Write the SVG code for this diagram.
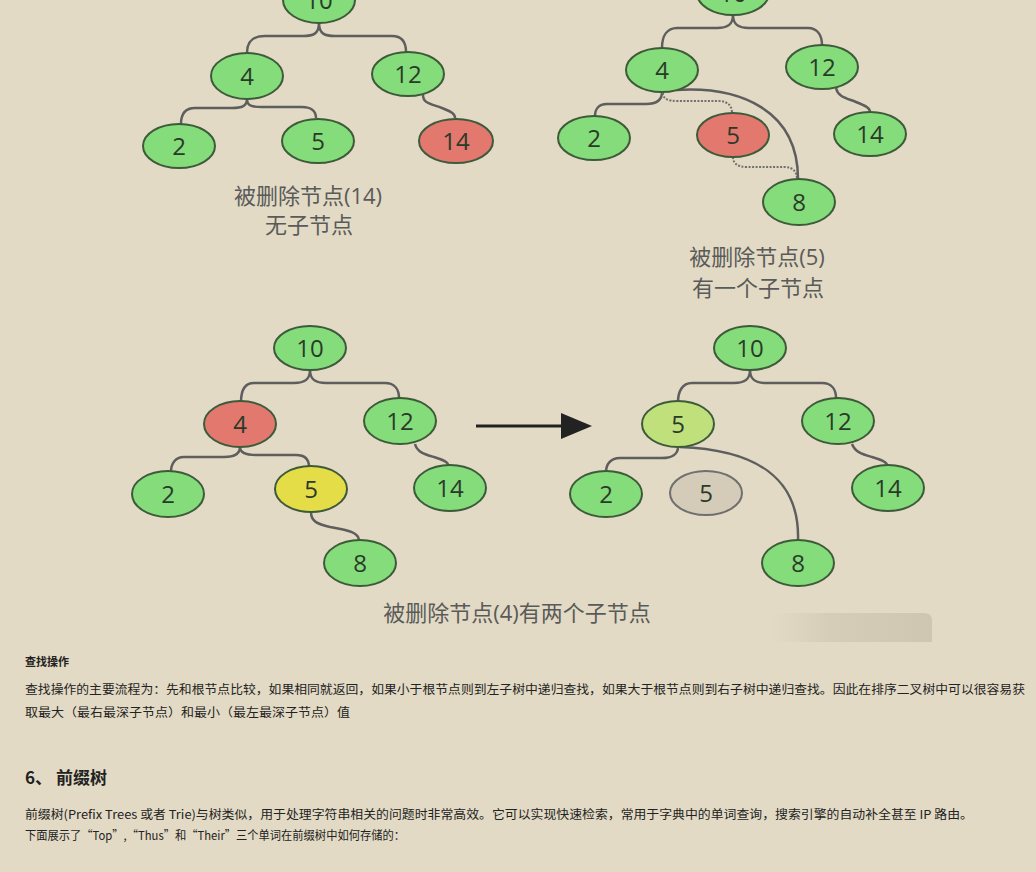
<svg xmlns="http://www.w3.org/2000/svg" width="1036" height="872" viewBox="0 0 1036 872">
<defs>
<style>
.n{stroke:#3d5a3a;stroke-width:2}
.g{fill:#84dc7a}
.r{fill:#e3786f}
.y{fill:#e5dd48}
.lg{fill:#bfe07a}
.gr{fill:#d4cbb8;stroke:#6f6f6f}
.t{font-family:"Open Sans","Noto Sans",sans-serif;font-size:24px;fill:#2a3a2a;text-anchor:middle}
.e{fill:none;stroke:#5e5e5e;stroke-width:2.5}
.d{fill:none;stroke:#707070;stroke-width:2;stroke-dasharray:2 1.5}
.lab{font-family:"Open Sans","Noto Sans CJK SC",sans-serif;font-size:22px;fill:#5a5a5a;text-anchor:middle}
.body{font-family:"Noto Sans CJK SC",sans-serif;font-size:12px;fill:#222}
.h{font-family:"Noto Sans CJK SC",sans-serif;font-weight:bold;fill:#222}
</style>
<linearGradient id="fade" x1="0" y1="0" x2="1" y2="0">
<stop offset="0" stop-color="#d8cfbb" stop-opacity="0"/>
<stop offset="0.35" stop-color="#d3cab6" stop-opacity="0.8"/>
<stop offset="1" stop-color="#cfc6b2"/>
</linearGradient>
</defs>
<rect width="1036" height="872" fill="#e2dac4"/>

<g id="connectors">
<!-- top-left -->
<path class="e" d="M319,23 C319,34 313,36 303,36 L265,36 C252,36 247,42 247,53"/>
<path class="e" d="M319,23 C319,34 325,36 335,36 L392,36 C402,36 406,42 406,52"/>
<path class="e" d="M247,99 C247,106 242,108 232,108 L195,108 C185,108 181,114 181,124"/>
<path class="e" d="M247,99 C247,106 252,107 262,107 L302,107 C312,107 316,112 316,118"/>
<path class="e" d="M423,95 C423,104 432,104 442,108 C452,112 455,114 455,118"/>
<!-- top-right -->
<path class="e" d="M733,15 C733,25 727,28 717,28 L677,28 C667,28 662,36 662,48"/>
<path class="e" d="M733,15 C733,25 739,28 749,28 L808,28 C818,28 822,36 822,45"/>
<path class="e" d="M662,92 C662,101 656,104 646,104 L607,104 C598,104 595,110 595,116"/>
<path class="d" d="M663,93 C663,99 668,101 678,101 L718,101 C728,101 732,106 732,113"/>
<path class="d" d="M733,157 C733,163 737,167 747,167 L785,167 C793,167 797,172 797,179"/>
<path class="e" d="M676,90 C740,86 798,110 798,179"/>
<path class="e" d="M836,88 C838,97 846,98 856,102 C866,106 870,108 870,112"/>
<!-- bottom-left -->
<path class="e" d="M310,370 C310,380 304,383 294,383 L254,383 C244,383 241,392 241,402"/>
<path class="e" d="M310,370 C310,380 316,383 326,383 L385,383 C395,383 399,390 399,398"/>
<path class="e" d="M240,447 C240,454 234,457 224,457 L184,457 C175,457 171,464 171,472"/>
<path class="e" d="M240,447 C240,453 246,455 256,455 L296,455 C306,455 309,460 309,467"/>
<path class="e" d="M415,444 C417,452 424,454 434,457 C444,460 448,462 448,465"/>
<path class="e" d="M311,512 C311,522 318,524 330,527 C344,530 358,531 359,540"/>
<!-- bottom-right -->
<path class="e" d="M750,370 C750,380 744,383 734,383 L692,383 C682,383 678,392 678,402"/>
<path class="e" d="M750,370 C750,380 756,383 766,383 L822,383 C832,383 836,390 836,398"/>
<path class="e" d="M678,447 C678,454 672,458 662,458 L620,458 C610,458 606,465 606,472"/>
<path class="e" d="M680,447 C760,450 800,480 798,541"/>
<path class="e" d="M852,444 C855,452 862,454 872,457 C882,460 887,462 887,465"/>
<!-- arrow -->
<line x1="476" y1="426" x2="566" y2="426" stroke="#222" stroke-width="3"/>
<polygon points="561,413 592,426 561,439" fill="#222"/>
</g>

<!-- top-left tree -->
<g id="tl10"><ellipse class="n g" cx="319" cy="0" rx="36" ry="23"/><text class="t" x="319" y="9">10</text></g>
<g id="tl4"><ellipse class="n g" cx="247" cy="76" rx="36" ry="23"/><text class="t" x="247" y="85">4</text></g>
<g id="tl12"><ellipse class="n g" cx="408" cy="74" rx="36" ry="22"/><text class="t" x="408" y="83">12</text></g>
<g id="tl2"><ellipse class="n g" cx="179" cy="146" rx="36" ry="22"/><text class="t" x="179" y="155">2</text></g>
<g id="tl5"><ellipse class="n g" cx="318" cy="141" rx="36" ry="22"/><text class="t" x="318" y="150">5</text></g>
<g id="tl14"><ellipse class="n r" cx="456" cy="141" rx="37" ry="22"/><text class="t" x="456" y="150">14</text></g>
<g id="tlLabel"><text class="lab" x="308" y="204">被删除节点(14)</text><text class="lab" x="309" y="233">无子节点</text></g>

<!-- top-right tree -->
<g id="tr10"><ellipse class="n g" cx="733" cy="-7" rx="36" ry="22"/><text class="t" x="733" y="2">10</text></g>
<g id="tr4"><ellipse class="n g" cx="662" cy="70" rx="36" ry="22"/><text class="t" x="662" y="79">4</text></g>
<g id="tr12"><ellipse class="n g" cx="822" cy="67" rx="36" ry="22"/><text class="t" x="822" y="76">12</text></g>
<g id="tr2"><ellipse class="n g" cx="594" cy="138" rx="36" ry="22"/><text class="t" x="594" y="147">2</text></g>
<g id="tr5"><ellipse class="n r" cx="733" cy="135" rx="36" ry="22"/><text class="t" x="733" y="144">5</text></g>
<g id="tr14"><ellipse class="n g" cx="870" cy="134" rx="36" ry="22"/><text class="t" x="870" y="143">14</text></g>
<g id="tr8"><ellipse class="n g" cx="799" cy="202" rx="36" ry="23"/><text class="t" x="799" y="211">8</text></g>
<g id="trLabel"><text class="lab" x="757" y="265">被删除节点(5)</text><text class="lab" x="758" y="296">有一个子节点</text></g>

<!-- bottom-left tree -->
<g id="bl10"><ellipse class="n g" cx="310" cy="348" rx="36" ry="22"/><text class="t" x="310" y="357">10</text></g>
<g id="bl4"><ellipse class="n r" cx="240" cy="424" rx="36" ry="23"/><text class="t" x="240" y="433">4</text></g>
<g id="bl12"><ellipse class="n g" cx="400" cy="421" rx="36" ry="23"/><text class="t" x="400" y="430">12</text></g>
<g id="bl2"><ellipse class="n g" cx="168" cy="494" rx="36" ry="23"/><text class="t" x="168" y="503">2</text></g>
<g id="bl5"><ellipse class="n y" cx="311" cy="489" rx="36" ry="23"/><text class="t" x="311" y="498">5</text></g>
<g id="bl14"><ellipse class="n g" cx="450" cy="488" rx="36" ry="23"/><text class="t" x="450" y="497">14</text></g>
<g id="bl8"><ellipse class="n g" cx="360" cy="563" rx="36" ry="23"/><text class="t" x="360" y="572">8</text></g>

<!-- bottom-right tree -->
<g id="br10"><ellipse class="n g" cx="750" cy="348" rx="36" ry="22"/><text class="t" x="750" y="357">10</text></g>
<g id="br5"><ellipse class="n lg" cx="678" cy="424" rx="36" ry="23"/><text class="t" x="678" y="433">5</text></g>
<g id="br12"><ellipse class="n g" cx="838" cy="421" rx="36" ry="23"/><text class="t" x="838" y="430">12</text></g>
<g id="br2"><ellipse class="n g" cx="606" cy="494" rx="36" ry="23"/><text class="t" x="606" y="503">2</text></g>
<g id="br5old"><ellipse class="n gr" cx="706" cy="493" rx="36" ry="22"/><text class="t" x="706" y="502" fill="#444">5</text></g>
<g id="br14"><ellipse class="n g" cx="888" cy="488" rx="36" ry="23"/><text class="t" x="888" y="497">14</text></g>
<g id="br8"><ellipse class="n g" cx="798" cy="563" rx="36" ry="23"/><text class="t" x="798" y="572">8</text></g>

<g id="bLabel"><text class="lab" x="517" y="621">被删除节点(4)有两个子节点</text></g>
<path d="M770,613 H924 Q932,613 932,621 V642 H770 Z" fill="url(#fade)"/>

<!-- text below -->
<text class="h" x="25" y="666" font-size="11">查找操作</text>
<text class="body" x="25" y="694" textLength="1000" lengthAdjust="spacingAndGlyphs">查找操作的主要流程为：先和根节点比较，如果相同就返回，如果小于根节点则到左子树中递归查找，如果大于根节点则到右子树中递归查找。因此在排序二叉树中可以很容易获</text>
<text class="body" x="25" y="717" textLength="325" lengthAdjust="spacingAndGlyphs">取最大（最右最深子节点）和最小（最左最深子节点）值</text>
<text class="h" x="25" y="784" font-size="17">6、 前缀树</text>
<text class="body" x="25" y="819" textLength="948" lengthAdjust="spacingAndGlyphs">前缀树(Prefix Trees 或者 Trie)与树类似，用于处理字符串相关的问题时非常高效。它可以实现快速检索，常用于字典中的单词查询，搜索引擎的自动补全甚至 IP 路由。</text>
<text class="body" x="25" y="840" textLength="380" lengthAdjust="spacingAndGlyphs">下面展示了“Top”,“Thus”和“Their”三个单词在前缀树中如何存储的：</text>
</svg>
